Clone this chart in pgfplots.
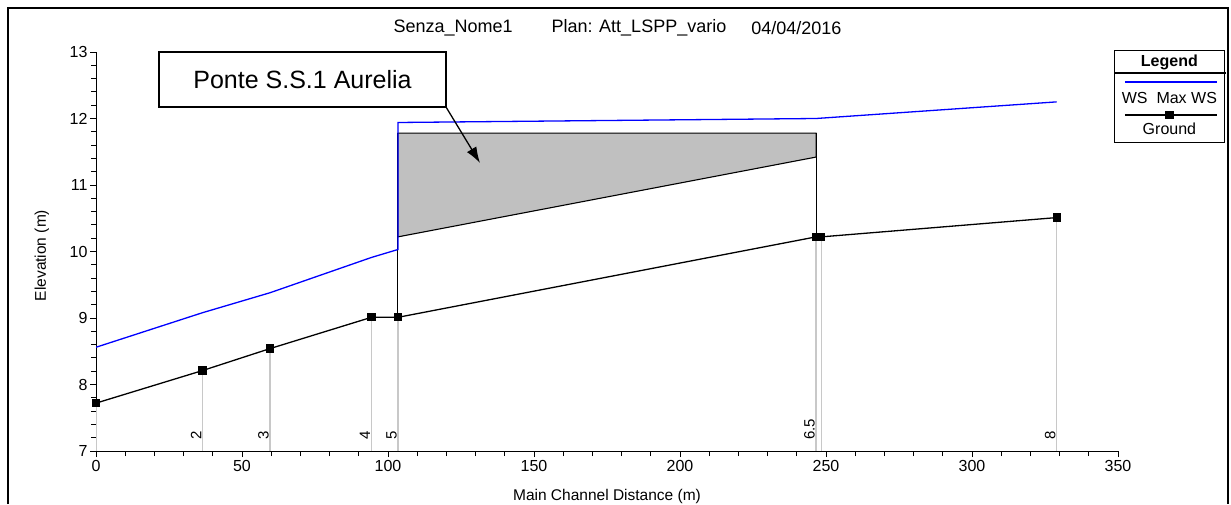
\documentclass[border=0pt]{standalone}
\usepackage{fontspec}
\setmainfont{Liberation Sans}
\usepackage{pgfplots}
\pgfplotsset{compat=1.18}
\usetikzlibrary{arrows.meta}
\definecolor{wsblue}{RGB}{0,0,255}
\definecolor{bridgegray}{RGB}{192,192,192}
\definecolor{stagray}{RGB}{200,200,200}

\pgfplotstableread{
x y
0 7.72
36.5 8.21
59.6 8.54
94.3 9.01
103.4 9.01
246.6 10.22
248.4 10.22
329 10.51
}\ground

\pgfplotstableread{
x y
0 8.56
36.5 9.08
59.6 9.38
94.3 9.91
103.4 10.03
103.4 11.94
246.6 12.00
329 12.25
}\ws

\pgfplotstableread{
x y
103.4 10.22
246.6 11.42
246.6 11.78
103.4 11.78
103.4 10.22
}\deck

\begin{document}
\begin{tikzpicture}[x=1pt,y=1pt]
\useasboundingbox (0,0) rectangle (1231,504);
\draw[line width=1.2pt] (8,0) -- (8,496) -- (1228,496) -- (1228,0);
\node[anchor=west, font=\fontsize{18}{20}\selectfont] at (390,476) {Senza\_Nome1};
\node[anchor=west, font=\fontsize{18}{20}\selectfont] at (548,476) {Plan: Att\_LSPP\_vario};
\node[anchor=east, font=\fontsize{18}{20}\selectfont] at (845,476) {04/04/2016};
\begin{axis}[
  at={(96pt,53pt)}, anchor=south west,
  scale only axis, width=1022pt, height=399pt,
  xmin=0, xmax=350, ymin=7, ymax=13,
  axis x line*=bottom, axis y line*=left,
  axis line style={line width=1pt},
  xtick={0,50,...,350}, ytick={7,8,...,13},
  minor x tick num=4, minor y tick num=4,
  tick align=outside,
  major tick length=6pt, minor tick length=5pt,
  every tick/.style={black, line width=0.9pt},
  tick label style={font=\fontsize{16}{18}\selectfont},
  yticklabel style={xshift=1pt},
  /pgf/number format/assume math mode=true,
  xlabel={Main Channel Distance (m)},
  ylabel={Elevation (m)},
  label style={font=\fontsize{15.5}{17}\selectfont},
  xlabel style={at={(axis description cs:0.5,-0.113)}, anchor=center},
  ylabel style={at={(axis description cs:-0.053,0.49)}, anchor=center, rotate=0},
  clip=true,
  legend style={at={(axis description cs:0.997,1.005)}, anchor=north west,
    draw=black, line width=1pt, inner sep=0pt, outer sep=0pt,
    row sep=0pt, column sep=0pt, fill=white,
    nodes={inner sep=0pt, outer sep=0pt}},
]
% station verticals
\addplot[stagray, line width=1.2pt, ycomb, forget plot] table[x=x,y=y] {\ground};
% bridge deck
\addplot[black, line width=1.1pt, fill=bridgegray, forget plot] table[x=x,y=y] {\deck};
\addplot[black, line width=1.1pt, forget plot] coordinates {(103.4,9.01) (103.4,11.78)};
\addplot[black, line width=1.1pt, forget plot] coordinates {(246.6,10.22) (246.6,11.78)};
% legend header
\addlegendimage{legend image code/.code={
  \path[draw=none, fill=none] (0pt,-11.5pt) rectangle (109pt,11.5pt);
  \node[black, font=\bfseries\fontsize{16}{18}\selectfont] at (54.5pt,0.5pt) {Legend};
}}
\addlegendentry{}
% WS
\addplot[wsblue, line width=1.3pt,
  legend image code/.code={
    \path[draw=none, fill=none] (0pt,-17pt) rectangle (109pt,17pt);
    \draw (10pt,8pt) -- (102pt,8pt);
    \node[black, font=\fontsize{16}{18}\selectfont] at (54.5pt,-9pt) {WS\ \ Max WS};
  }] table[x=x,y=y] {\ws};
\addlegendentry{}
% Ground
\addplot[black, line width=1.3pt, mark=square*, mark size=3.5pt,
  legend image code/.code={
    \path[draw=none, fill=none] (0pt,-17.5pt) rectangle (109pt,17.5pt);
    \draw[mark repeat=2, mark phase=2] plot coordinates {(10pt,9.5pt) (54.5pt,9.5pt) (102pt,9.5pt)};
    \node[black, font=\fontsize{16}{18}\selectfont] at (54.5pt,-4.5pt) {Ground};
  }] table[x=x,y=y] {\ground};
\addlegendentry{}
% station labels
\foreach \sx/\sl in {36.5/2, 59.6/3, 94.3/4, 103.4/5, 246.6/6.5, 329/8} {
  \edef\tmp{\noexpand\node[rotate=90, anchor=south west, font=\noexpand\fontsize{15}{17}\noexpand\selectfont, inner sep=1pt] at (axis cs:\sx,7.15) {\sl};}
  \tmp
}
\end{axis}
\draw[black, line width=1.1pt] (1115,431) -- (1226,431);
\node[draw=black, line width=1.3pt, fill=white, minimum width=287pt, minimum height=55pt, font=\fontsize{25}{28}\selectfont] at (302.5,424.5) {Ponte S.S.1 Aurelia};
\draw[line width=1.3pt, -{Latex[length=16pt,width=11pt]}] (446,397) -- (480,341);
\end{tikzpicture}
\end{document}
